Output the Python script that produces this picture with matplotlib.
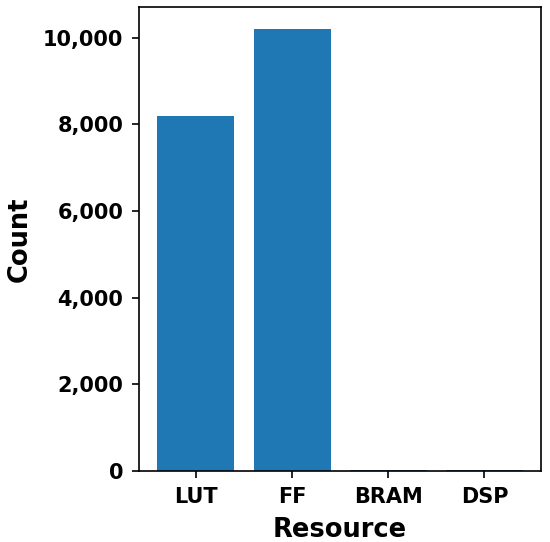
import matplotlib
matplotlib.use("Agg")
import matplotlib.pyplot as plt
from matplotlib.ticker import FuncFormatter

# resource usage
resources = ["LUT", "FF", "BRAM", "DSP"]
counts = [8200, 10200, 30, 20]

fig, ax = plt.subplots(figsize=(5.5, 5.42), dpi=100)
ax.bar(resources, counts, color="#1f77b4")

ax.set_xlabel("Resource", fontsize=18.5, fontweight="bold", labelpad=7)
ax.set_ylabel("Count", fontsize=18.5, fontweight="bold", labelpad=7)
ax.yaxis.set_major_formatter(FuncFormatter(lambda v, p: f"{int(v):,}"))
for lbl in ax.get_xticklabels() + ax.get_yticklabels():
    lbl.set_fontweight("bold")
    lbl.set_fontsize(15)
ax.tick_params(length=5, width=1.2, pad=6.5)
for s in ax.spines.values():
    s.set_linewidth(1.2)

fig.subplots_adjust(left=0.253, right=0.984, top=0.987, bottom=0.131)
fig.savefig("out.png")
